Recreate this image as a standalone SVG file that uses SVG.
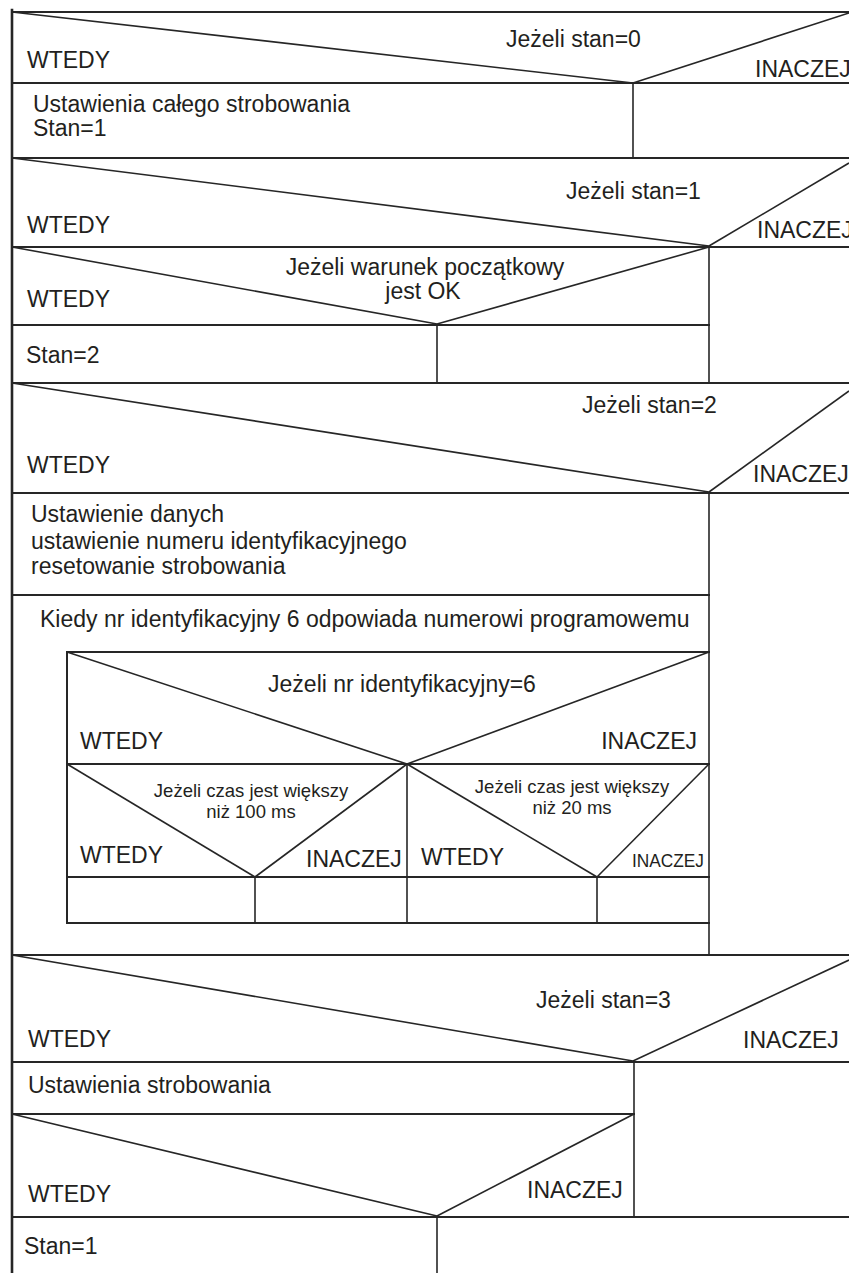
<svg xmlns="http://www.w3.org/2000/svg" width="849" height="1273" viewBox="0 0 849 1273">
<style>
.ln{stroke:#262626;stroke-width:2;fill:none;stroke-linecap:square}
.th{stroke:#262626;stroke-width:1.6;fill:none}
.t{font-family:"Liberation Sans",Arial,sans-serif;font-size:23px;fill:#231f20}
.s{font-size:18.5px}
.m{text-anchor:middle}
.e{text-anchor:end}
</style>
<rect x="0" y="0" width="849" height="1273" fill="#ffffff"/>
<g id="frame">
<line class="ln" x1="12" y1="10" x2="12" y2="1273" style="stroke-width:2.6"/>
<line class="ln" x1="12" y1="12" x2="849" y2="12"/>
</g>
<g id="if-stan0">
<line class="th" x1="12" y1="12" x2="633" y2="83"/>
<line class="th" x1="633" y1="83" x2="849" y2="13"/>
<line class="ln" x1="12" y1="83" x2="849" y2="83"/>
<text class="t" x="506" y="47">Jeżeli stan=0</text>
<text class="t" x="27" y="68">WTEDY</text>
<text class="t" x="755" y="77">INACZEJ</text>
</g>
<g id="act-ustawienia-calego">
<line class="th" x1="633" y1="83" x2="633" y2="158"/>
<text class="t" x="33" y="112">Ustawienia całego strobowania</text>
<text class="t" x="33" y="136">Stan=1</text>
<line class="ln" x1="12" y1="158" x2="849" y2="158"/>
</g>
<g id="if-stan1">
<line class="th" x1="12" y1="158" x2="709" y2="246"/>
<line class="th" x1="709" y1="246" x2="849" y2="163"/>
<line class="ln" x1="12" y1="247" x2="849" y2="247"/>
<text class="t" x="566" y="199">Jeżeli stan=1</text>
<text class="t" x="27" y="233">WTEDY</text>
<text class="t" x="757" y="238">INACZEJ</text>
<line class="th" x1="709" y1="247" x2="709" y2="382"/>
</g>
<g id="if-warunek">
<line class="th" x1="12" y1="247" x2="437" y2="324"/>
<line class="th" x1="437" y1="324" x2="709" y2="247"/>
<line class="ln" x1="12" y1="325" x2="709" y2="325"/>
<text class="t m" x="425" y="275">Jeżeli warunek początkowy</text>
<text class="t m" x="423" y="299">jest OK</text>
<text class="t" x="27" y="307">WTEDY</text>
<line class="th" x1="437" y1="325" x2="437" y2="382"/>
</g>
<g id="act-stan2">
<text class="t" x="26" y="363">Stan=2</text>
<line class="ln" x1="12" y1="383" x2="849" y2="383"/>
</g>
<g id="if-stan2">
<line class="th" x1="12" y1="383" x2="709" y2="492"/>
<line class="th" x1="709" y1="492" x2="849" y2="391"/>
<line class="ln" x1="12" y1="493" x2="849" y2="493"/>
<text class="t" x="582" y="413">Jeżeli stan=2</text>
<text class="t" x="27" y="473">WTEDY</text>
<text class="t" x="753" y="482">INACZEJ</text>
<line class="th" x1="709" y1="493" x2="709" y2="956"/>
</g>
<g id="act-ustawienie-danych">
<text class="t" x="31" y="522">Ustawienie danych</text>
<text class="t" x="31" y="549">ustawienie numeru identyfikacyjnego</text>
<text class="t" x="31" y="574">resetowanie strobowania</text>
<line class="ln" x1="12" y1="595" x2="709" y2="595"/>
</g>
<g id="loop-kiedy">
<text class="t" x="40" y="627">Kiedy nr identyfikacyjny 6 odpowiada numerowi programowemu</text>
</g>
<g id="if-nr6">
<line class="ln" x1="67" y1="652" x2="709" y2="652"/>
<line class="ln" x1="67" y1="652" x2="67" y2="923"/>
<line class="th" x1="67" y1="652" x2="407" y2="764"/>
<line class="th" x1="407" y1="764" x2="709" y2="652"/>
<line class="ln" x1="67" y1="764" x2="709" y2="764"/>
<text class="t m" x="402" y="692">Jeżeli nr identyfikacyjny=6</text>
<text class="t" x="80" y="749">WTEDY</text>
<text class="t e" x="697" y="749">INACZEJ</text>
<line class="th" x1="407" y1="764" x2="407" y2="923"/>
<line class="ln" x1="67" y1="923" x2="709" y2="923"/>
</g>
<g id="if-czas100">
<line class="th" x1="67" y1="764" x2="255" y2="877"/>
<line class="th" x1="255" y1="877" x2="407" y2="764"/>
<text class="t s m" x="251" y="797">Jeżeli czas jest większy</text>
<text class="t s m" x="251" y="818">niż 100 ms</text>
<text class="t" x="80" y="863">WTEDY</text>
<text class="t" x="306" y="867">INACZEJ</text>
<line class="th" x1="255" y1="877" x2="255" y2="923"/>
</g>
<g id="if-czas20">
<line class="th" x1="407" y1="764" x2="597" y2="877"/>
<line class="th" x1="597" y1="877" x2="709" y2="764"/>
<text class="t s m" x="572" y="793">Jeżeli czas jest większy</text>
<text class="t s m" x="572" y="814">niż 20 ms</text>
<text class="t" x="421" y="865">WTEDY</text>
<text class="t" x="632" y="867" style="font-size:18px" textLength="72" lengthAdjust="spacingAndGlyphs">INACZEJ</text>
<line class="th" x1="597" y1="877" x2="597" y2="923"/>
<line class="ln" x1="67" y1="877" x2="709" y2="877"/>
</g>
<g id="if-stan3">
<line class="ln" x1="12" y1="955" x2="849" y2="955"/>
<line class="th" x1="12" y1="955" x2="633" y2="1061"/>
<line class="th" x1="633" y1="1061" x2="849" y2="960"/>
<line class="ln" x1="12" y1="1062" x2="849" y2="1062"/>
<text class="t" x="536" y="1008">Jeżeli stan=3</text>
<text class="t" x="28" y="1047">WTEDY</text>
<text class="t" x="743" y="1048">INACZEJ</text>
<line class="th" x1="634" y1="1062" x2="634" y2="1216"/>
</g>
<g id="act-ustawienia-strobowania">
<text class="t" x="28" y="1093">Ustawienia strobowania</text>
<line class="ln" x1="12" y1="1114" x2="634" y2="1114"/>
</g>
<g id="if-last">
<line class="th" x1="12" y1="1114" x2="437" y2="1216"/>
<line class="th" x1="437" y1="1216" x2="634" y2="1114"/>
<text class="t" x="28" y="1202">WTEDY</text>
<text class="t" x="527" y="1198">INACZEJ</text>
<line class="ln" x1="12" y1="1217" x2="849" y2="1217"/>
<line class="th" x1="437" y1="1217" x2="437" y2="1273"/>
</g>
<g id="act-stan1">
<text class="t" x="24" y="1254">Stan=1</text>
</g>
<g id="connectors"></g>
</svg>
